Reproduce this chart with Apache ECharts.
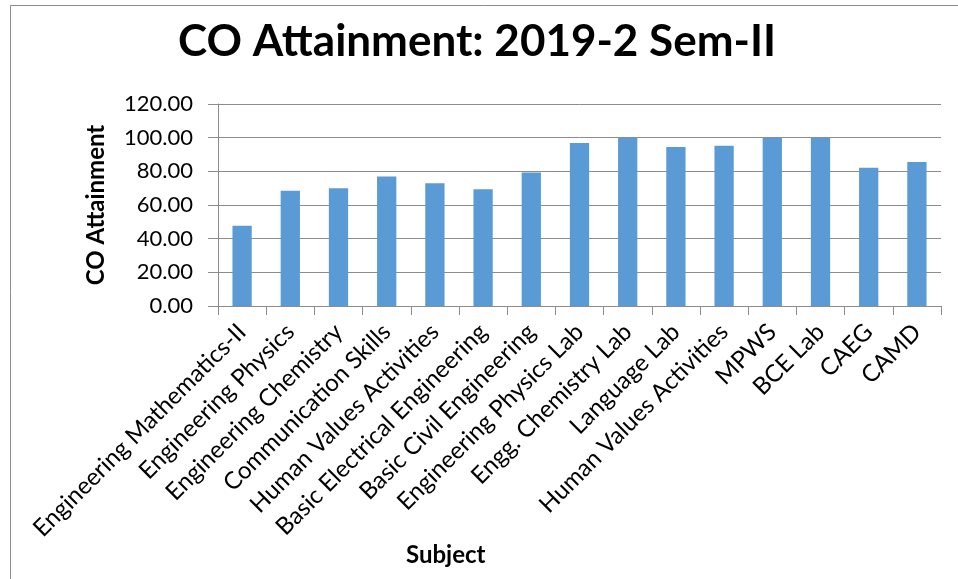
<!DOCTYPE html>
<html>
<head>
<meta charset="utf-8">
<script src="https://cdn.jsdelivr.net/npm/echarts@6/dist/echarts.min.js"></script>
<style>html,body{margin:0;padding:0;background:#fff}#c{width:958px;height:579px}</style>
</head>
<body>
<div id="c"></div>
<script>
const categories = ["Engineering Mathematics-II","Engineering Physics","Engineering Chemistry","Communication Skills","Human Values Activities","Basic Electrical Engineering","Basic Civil Engineering","Engineering Physics Lab","Engg. Chemistry Lab","Language Lab","Human Values Activities","MPWS","BCE Lab","CAEG","CAMD"];
const values = [47.7, 68.5, 70.0, 76.9, 72.9, 69.4, 79.3, 96.8, 100.0, 94.4, 95.2, 100.0, 100.0, 82.2, 85.5];
const yTicks = { min: 0, max: 120, interval: 20 };
const titleText = "CO Attainment: 2019-2 Sem-II";
const yName = "CO Attainment";
const xName = "Subject";

const font = "Lato, 'Open Sans', sans-serif";
const chart = echarts.init(document.getElementById('c'));
chart.setOption({
  animation: false,
  backgroundColor: '#fff',
  title: {
    text: titleText, left: 472, top: 15, textAlign: 'center',
    textStyle: { fontFamily: font, fontWeight: 'bold', fontSize: 44, color: '#000' }
  },
  grid: { left: 218, right: 17, top: 104, bottom: 273, containLabel: false },
  xAxis: {
    type: 'category', data: categories,
    axisLine: { lineStyle: { color: '#8c8c8c', width: 1 } },
    axisTick: { show: true, length: 9, lineStyle: { color: '#8c8c8c' } },
    axisLabel: { rotate: 45, interval: 0, margin: 22, fontFamily: font, fontSize: 24, color: '#000' }
  },
  yAxis: {
    type: 'value', min: yTicks.min, max: yTicks.max, interval: yTicks.interval,
    name: yName, nameLocation: 'middle', nameGap: 110, nameRotate: 90,
    nameTextStyle: { fontFamily: font, fontWeight: 'bold', fontSize: 24, color: '#000' },
    axisLine: { show: true, lineStyle: { color: '#8c8c8c', width: 1 } },
    axisTick: { show: true, length: 10, lineStyle: { color: '#8c8c8c' } },
    axisLabel: { margin: 25, fontFamily: font, fontSize: 22, color: '#000', formatter: v => v.toFixed(2) },
    splitLine: { show: true, lineStyle: { color: '#8c8c8c', width: 1 } }
  },
  series: [{
    type: 'bar', data: values, barWidth: '40%',
    itemStyle: { color: '#5B9BD5' }
  }],
  graphic: [
    { type: 'rect', shape: { x: 10.5, y: 5.5, width: 1000, height: 1000 }, style: { fill: 'none', stroke: '#8c8c8c', lineWidth: 1 }, silent: true },
    { type: 'text', left: 406, top: 543, style: { text: xName, font: "bold 24px Lato, 'Open Sans', sans-serif", fill: '#000' } }
  ]
});
</script>
</body>
</html>
